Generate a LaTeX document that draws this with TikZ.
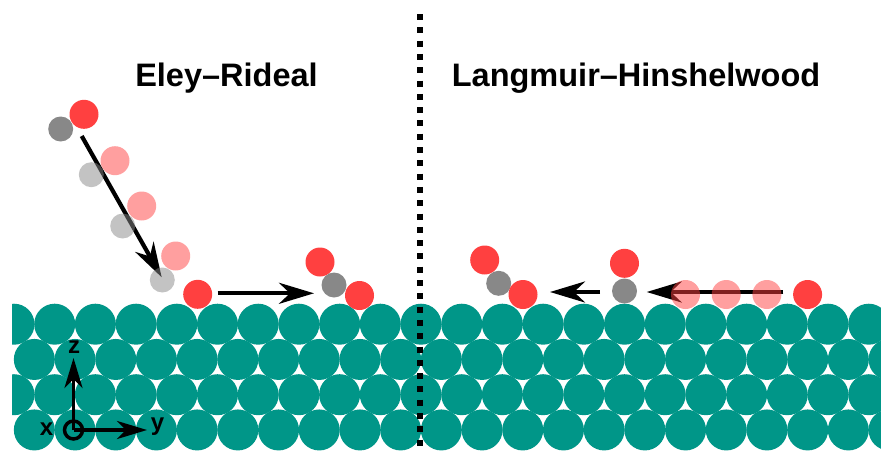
\documentclass[tikz,border=0pt]{standalone}
\usepackage{fontspec}
\setmainfont{Liberation Sans}
\usetikzlibrary{arrows.meta}

\definecolor{surf}{RGB}{0,150,136}
\definecolor{ored}{RGB}{255,64,64}
\definecolor{cgrey}{RGB}{136,136,136}

\begin{document}
\begin{tikzpicture}[x=1pt,y=-1pt]
                \tikzstyle{oxy}=[circle,fill=ored,inner sep=0pt,minimum size=29pt]
                \tikzstyle{carb}=[circle,fill=cgrey,inner sep=0pt,minimum size=25pt]
                \tikzstyle{ghost}=[fill opacity=0.5]
                \tikzstyle{myarrows}=[line width=4.2pt,-{Stealth[length=35pt,width=21pt,inset=11pt]}]
                \tikzstyle{axisarrow}=[line width=3.5pt,-{Stealth[length=30pt,width=18pt,inset=9pt]}]
                \tikzstyle{title}=[font=\bfseries\fontsize{32.5}{32.5}\selectfont,anchor=base]
                \tikzstyle{axlabel}=[font=\bfseries\fontsize{24}{24}\selectfont]
                
                \useasboundingbox (0,0) rectangle (881,450);
                
                % close packed surface, four rows
                \begin{scope}
                \clip (12,0) rectangle (881,450);
                \foreach \r in {0,...,3} {
                  \foreach \i in {0,...,21} {
                    \pgfmathsetmacro{\cx}{14+40.7*\i+20.35*mod(\r,2)}
                    \pgfmathsetmacro{\cy}{324.2+35.25*\r}
                    \fill[surf] (\cx,\cy) circle (20.5);
                  }
                }
                \end{scope}
                
                \coordinate (divtop) at (420,14);
                \coordinate (divbot) at (420,450);
                \draw[line width=6pt,dash pattern=on 6pt off 7.3pt] (divtop) -- (divbot);
                
                \node[title] (er) at (226.5,86) {Eley--Rideal};
                \node[title] (lh) at (636,86) {Langmuir--Hinshelwood};
                
                % arrows
                \coordinate (A) at (81.7,136);
                \coordinate (B) at (161.7,277.3);
                \coordinate (C) at (217.7,293.3);
                \coordinate (D) at (314,293.3);
                \coordinate (E) at (783.3,292);
                \coordinate (F) at (646.7,292);
                \coordinate (G) at (600,292);
                \coordinate (H) at (550,292);
                \draw[myarrows] (A) -- (B);
                \draw[myarrows] (C) -- (D);
                \draw[myarrows] (E) -- (F);
                \draw[myarrows] (G) -- (H);
                
                % Eley-Rideal
                \node[carb] (c0) at (60.7,129) {};
                \node[oxy] (o0) at (84,114.3) {};
                \node[oxy,ghost] (o1) at (115,160.7) {};
                \node[carb,ghost] (c1) at (91.3,174.7) {};
                \node[oxy,ghost] (o2) at (141.7,206) {};
                \node[carb,ghost] (c2) at (122.7,226) {};
                \node[oxy,ghost] (o3) at (175.7,256) {};
                \node[carb,ghost] (c3) at (162.3,280) {};
                \node[oxy] (os) at (197.7,294.3) {};
                
                \node[oxy] (p1) at (320,262) {};
                \node[carb] (pc) at (334,285) {};
                \node[oxy] (p2) at (359.5,295.5) {};
                
                % Langmuir-Hinshelwood
                \node[oxy] (q1) at (484.7,260) {};
                \node[carb] (qc) at (498.7,283.3) {};
                \node[oxy] (q2) at (523,294.5) {};
                
                \node[oxy] (co1) at (624.5,263.3) {};
                \node[carb] (co2) at (624.5,291) {};
                
                \node[oxy,ghost] (h1) at (685.5,294.5) {};
                \node[oxy,ghost] (h2) at (726.2,294.5) {};
                \node[oxy,ghost] (h3) at (766.9,294.5) {};
                \node[oxy] (h4) at (807.6,294.5) {};
                
                % axes
                \coordinate (orig) at (73.5,430);
                \coordinate (ztip) at (73.5,358);
                \coordinate (ytip) at (147,430);
                \draw[axisarrow] (orig) -- (ztip);
                \draw[axisarrow] (orig) -- (ytip);
                \draw[line width=3.5pt] (orig) circle (9);
                \node[axlabel] (zl) at (74,347) {z};
                \node[axlabel] (xl) at (46.5,429) {x};
                \node[axlabel] (yl) at (157.5,427) {y};
                
                \end{tikzpicture}
\end{document}
